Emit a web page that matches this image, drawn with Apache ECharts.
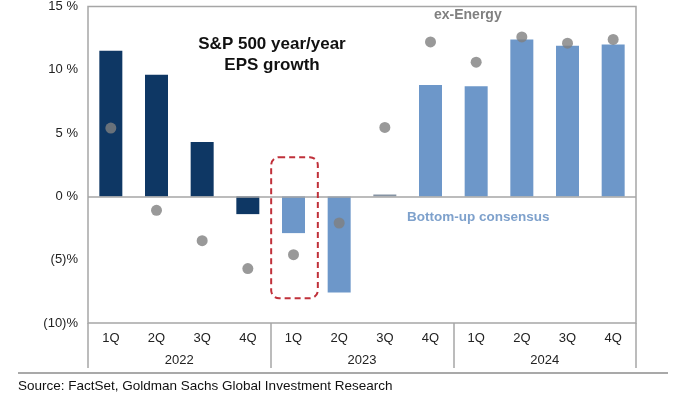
<!DOCTYPE html>
<html><head><meta charset="utf-8">
<script src="https://cdn.jsdelivr.net/npm/echarts@6/dist/echarts.min.js"></script>
<style>html,body{margin:0;padding:0;background:#fff}#c{width:700px;height:394px}</style>
</head><body><div id="c"></div>
<script>
const quarters = ['1Q','2Q','3Q','4Q','1Q','2Q','3Q','4Q','1Q','2Q','3Q','4Q'];
const years = ['2022','2023','2024'];
const consensus = [11.5, 9.6, 4.3, -1.4, -2.9, -7.6, 0.15, 8.8, 8.7, 12.4, 11.9, 12.0];
const exEnergy = [5.4, -1.1, -3.5, -5.7, -4.6, -2.1, 5.45, 12.2, 10.6, 12.6, 12.1, 12.4];
const yTicks = [-10, -5, 0, 5, 10, 15];

const NAVY = '#0e3764', LIGHT = '#6d97c9', TINY = '#8593a3';
const barColors = consensus.map((v, i) => i < 4 ? NAVY : (i === 6 ? TINY : LIGHT));
const FONT = '"Liberation Sans", Arial, sans-serif';

const chart = echarts.init(document.getElementById('c'), null, {renderer: 'canvas'});
chart.setOption({
  animation: false,
  textStyle: {fontFamily: FONT},
  grid: {left: 88, right: 64, top: 5, bottom: 71, show: true, borderColor: '#a6a6a6', borderWidth: 1.5, containLabel: false},
  xAxis: [{
    type: 'category', data: quarters, position: 'bottom',
    axisLine: {show: false}, axisTick: {show: false},
    axisLabel: {color: '#222', fontSize: 13, margin: 9, fontFamily: FONT}
  }, {
    type: 'category', data: years, position: 'bottom', gridIndex: 0,
    axisLine: {show: false},
    axisTick: {show: true, length: 45, lineStyle: {color: '#a6a6a6', width: 1.5}},
    axisLabel: {color: '#222', fontSize: 13, margin: 31, fontFamily: FONT}
  }],
  yAxis: {
    type: 'value', min: yTicks[0], max: yTicks[yTicks.length - 1], interval: 5,
    axisLine: {show: false}, axisTick: {show: false}, splitLine: {show: false},
    axisLabel: {color: '#222', fontSize: 13, margin: 10, fontFamily: FONT,
      formatter: v => v < 0 ? '(' + (-v) + ')%' : v + ' %'}
  },
  series: [{
    type: 'bar', xAxisIndex: 0, barWidth: 23,
    data: consensus.map((v, i) => ({value: v, itemStyle: {color: barColors[i]}})),
    markLine: {silent: true, symbol: 'none', label: {show: false},
      lineStyle: {color: '#a6a6a6', width: 1.5, type: 'solid'}, data: [{yAxis: 0}]},
    z: 2
  }, {
    type: 'scatter', xAxisIndex: 0, data: exEnergy, symbolSize: 11,
    itemStyle: {color: '#7f7f7f'}, z: 3
  }]
});

const p1 = chart.convertToPixel({xAxisIndex: 0, yAxisIndex: 0}, [4, 3.1]);
const p2 = chart.convertToPixel({xAxisIndex: 0, yAxisIndex: 0}, [4, -8.05]);
const catW = 548 / 12;
chart.setOption({
  graphic: [
    {type: 'rect', shape: {x: p1[0] - catW / 2 + 0.5, y: p1[1], width: catW + 1, height: p2[1] - p1[1], r: 8},
      style: {fill: 'none', stroke: '#c0303a', lineWidth: 2, lineDash: [6, 4]}, z: 10},
    {type: 'text', left: 196, top: 34, style: {text: 'S&P 500 year/year\nEPS growth', font: 'bold 17px ' + FONT, fill: '#111', textAlign: 'center', lineHeight: 21, width: 152}},
    {type: 'text', left: 434, top: 8, style: {text: 'ex-Energy', font: 'bold 14px ' + FONT, fill: '#808080'}},
    {type: 'text', left: 407, top: 210, style: {text: 'Bottom-up consensus', font: 'bold 13.5px ' + FONT, fill: '#7ea1cc'}},
    {type: 'line', shape: {x1: 18, y1: 373, x2: 668, y2: 373}, style: {stroke: '#555', lineWidth: 1.2}},
    {type: 'text', left: 18, top: 379, style: {text: 'Source: FactSet, Goldman Sachs Global Investment Research', font: '13.5px ' + FONT, fill: '#111'}}
  ]
});
</script></body></html>
